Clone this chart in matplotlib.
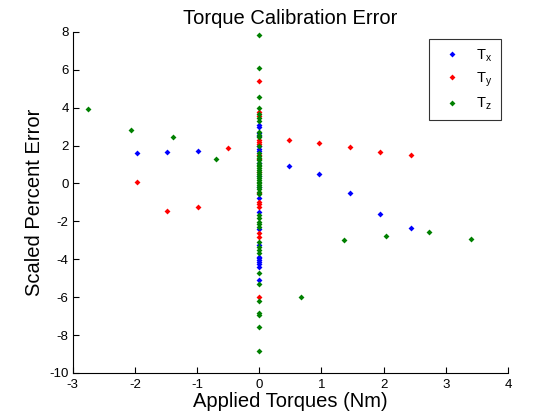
import numpy as np
import matplotlib
matplotlib.use("Agg")
import matplotlib.pyplot as plt

plt.rcParams['font.family'] = ['Liberation Sans', 'DejaVu Sans']
plt.rcParams['axes.unicode_minus'] = False
plt.rcParams['mathtext.fontset'] = 'custom'
plt.rcParams['mathtext.rm'] = 'Liberation Sans'

# ---- data ----
# points with non-zero applied torque
tx_x_off = [-1.96, -1.48, -0.98, 0.48, 0.96, 1.46, 1.95, 2.44]
tx_y_off = [1.59, 1.65, 1.70, 0.91, 0.49, -0.52, -1.63, -2.37]
ty_x_off = [-1.96, -1.48, -0.98, -0.50, 0.48, 0.96, 1.46, 1.95, 2.44]
ty_y_off = [0.06, -1.47, -1.24, 1.86, 2.28, 2.12, 1.91, 1.65, 1.49]
tz_x_off = [-2.75, -2.07, -1.39, -0.69, 0.67, 1.37, 2.04, 2.73, 3.41]
tz_y_off = [3.92, 2.81, 2.44, 1.28, -6.01, -3.00, -2.79, -2.58, -2.95]

# errors at zero applied torque
tx_y_zero = [3.10, 3.00, 2.68, 2.50, 2.00, 1.80, 1.72, 1.10, 0.40, -0.20,
             -0.78, -1.49, -2.40, -3.25, -3.86, -3.95, -4.05, -4.15, -4.25,
             -4.39, -5.10]
ty_y_zero = [5.40, 3.79, 3.56, 2.30, 2.20, 2.10, 1.50, 1.30, 0.60, -0.52,
             -0.98, -1.10, -1.24, -2.60, -2.80, -6.00]
tz_y_zero = [7.84, 6.08, 4.55, 4.00, 3.67, 3.44, 3.32, 2.73, 2.56, 2.44,
             1.98, 1.60, 1.45, 1.35, 1.24, 1.08, 0.98, 0.90, 0.82, 0.70,
             0.60, 0.50, 0.40, 0.30, 0.20, 0.10, 0.00, -0.10, -0.20, -0.30,
             -0.43, -0.55, -1.66, -1.82, -2.03, -2.15, -2.30, -3.07, -3.34,
             -3.50, -3.67, -4.74, -5.32, -6.22, -6.85, -6.94, -7.58, -8.86]

labels = ['T$_\\mathregular{x}$', 'T$_\\mathregular{y}$', 'T$_\\mathregular{z}$']
colors = ['#0000ff', '#ff0000', '#008000']

series = [
    (tx_x_off, tx_y_off, tx_y_zero),
    (ty_x_off, ty_y_off, ty_y_zero),
    (tz_x_off, tz_y_off, tz_y_zero),
]

fig = plt.figure(figsize=(5.6, 4.2), dpi=100)
ax = fig.add_axes([0.130, 0.112, 0.777, 0.812])

for (xo, yo, yz), lab, col in zip(series, labels, colors):
    x = np.concatenate([np.zeros(len(yz)), np.array(xo)])
    y = np.concatenate([np.array(yz), np.array(yo)])
    ax.plot(x, y, linestyle='none', marker='D', markersize=3,
            markeredgewidth=0, color=col, label=lab)

ax.set_xlim(-3, 4)
ax.set_ylim(-10, 8)
ax.set_xticks(np.arange(-3, 5, 1))
ax.set_yticks(np.arange(-10, 9, 2))
ax.spines['top'].set_visible(False)
ax.spines['right'].set_visible(False)
ax.tick_params(direction='in', length=4, width=0.8, labelsize=9.5)
ax.tick_params(axis='x', pad=4)
ax.tick_params(axis='y', pad=3)

ax.set_title('Torque Calibration Error', fontsize=14.5, pad=6)
ax.set_xlabel('Applied Torques (Nm)', fontsize=14.5, labelpad=1)
ax.set_ylabel('Scaled Percent Error', fontsize=14.5, labelpad=4)

leg = ax.legend(loc='upper right', fontsize=10.5, borderaxespad=0.5,
                frameon=True, fancybox=False, edgecolor='black',
                handlelength=2.0, handletextpad=0.7, labelspacing=0.45,
                borderpad=0.55, markerscale=1.0)
leg.get_frame().set_linewidth(0.8)

fig.savefig('out.png', dpi=100)
